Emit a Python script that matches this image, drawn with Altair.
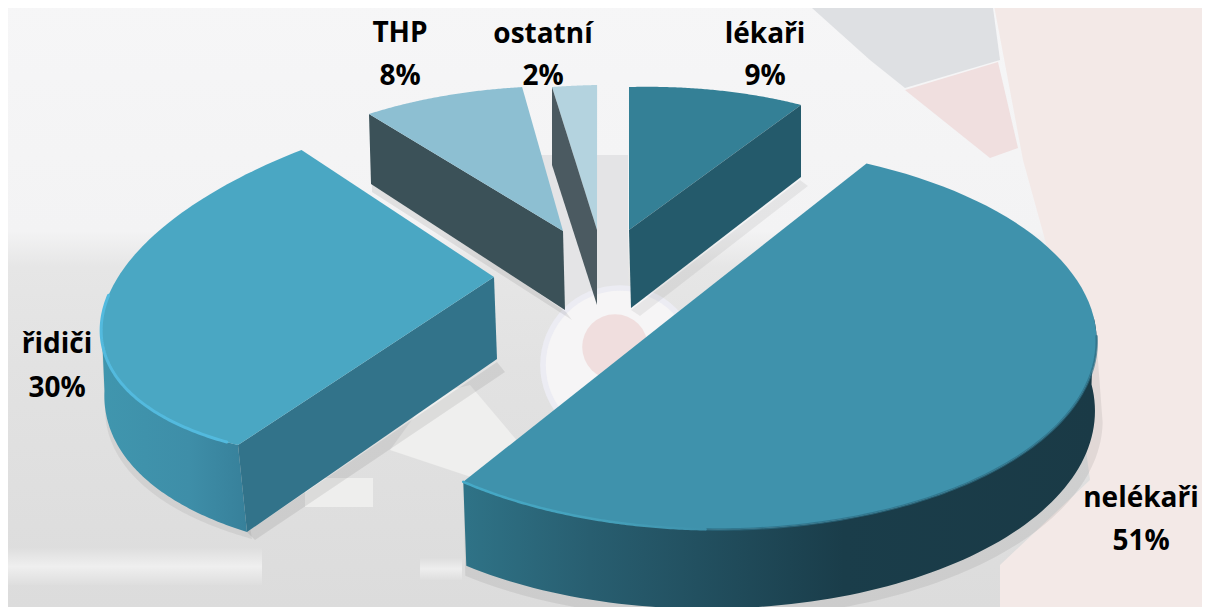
import math
import numpy as np
import altair as alt
import pandas as pd

# ---- data ----
categories = ["lékaři", "nelékaři", "řidiči", "THP", "ostatní"]
shares = [9, 51, 30, 8, 2]

W, H = 1194, 599
X = alt.X("x:Q", axis=None, scale=alt.Scale(domain=[8, 1202], range=[0, W], nice=False, zero=False))
Y = alt.Y("y:Q", axis=None, scale=alt.Scale(domain=[8, 607], range=[0, H], nice=False, zero=False))


def grad(stops, horizontal=True):
    return alt.Gradient(
        gradient="linear",
        x1=0, y1=0, x2=1 if horizontal else 0, y2=0 if horizontal else 1,
        stops=[alt.GradientStop(color=c, offset=o) for o, c in stops],
    )


def poly(points, fill, opacity=1.0):
    df = pd.DataFrame(points, columns=["x", "y"])
    df["i"] = range(len(df))
    return alt.Chart(df).mark_line(fill=fill, stroke=None, strokeWidth=0, opacity=opacity, clip=True).encode(
        x=X, y=Y, order="i:Q")


def stroke_line(points, stroke, width, opacity=1.0):
    df = pd.DataFrame(points, columns=["x", "y"])
    df["i"] = range(len(df))
    return alt.Chart(df).mark_line(stroke=stroke, strokeWidth=width, opacity=opacity, clip=True,
                                   strokeCap="round").encode(x=X, y=Y, order="i:Q")


def dot(x, y, size, color, opacity=1.0):
    return alt.Chart(pd.DataFrame({"x": [x], "y": [y]})).mark_point(
        filled=True, size=size, color=color, opacity=opacity).encode(x=X, y=Y)


def ellipse_view(rim, sweep_deg, apex):
    """Ellipse through the outline of the largest slice, as centre + conjugate vectors."""
    pts = np.array(rim, dtype=float)
    m = pts.mean(axis=0)
    s = 300.0
    u, v = (pts[:, 0] - m[0]) / s, (pts[:, 1] - m[1]) / s
    A = np.column_stack([u * u, u * v, v * v, u, v, np.ones(len(u))])
    a, b, c, d, e, f = np.linalg.svd(A)[2][-1]
    M = np.array([[a, b / 2], [b / 2, c]])
    ctr = np.linalg.solve(2 * M, [-d, -e])
    val = -(a * ctr[0] ** 2 + b * ctr[0] * ctr[1] + c * ctr[1] ** 2 + d * ctr[0] + e * ctr[1] + f)

    def norm(w):
        return w * math.sqrt(val / (w @ M @ w))

    Ev = norm((pts[0] - m) / s - ctr)
    Mu = M @ Ev
    Fv = norm(np.array([-Mu[1], Mu[0]]))
    if Ev[0] * Fv[1] - Ev[1] * Fv[0] < 0:
        Fv = -Fv
    q = np.linalg.solve(np.column_stack([Ev, Fv]), (pts[-1] - m) / s - ctr)
    end = math.atan2(q[1], q[0]) % (2 * math.pi)
    c_px = m + ctr * s
    return dict(apex=apex, c=tuple(c_px), E=tuple(Ev * s), F=tuple(Fv * s),
                k=math.degrees(end) / sweep_deg)


# ---- slice geometry (view of the exploded 3-D pie) ----
neleka_rim = [(867, 163), (950, 190), (1037, 240), (1077, 280), (1097, 320), (1099, 340), (1083, 387),
              (1043, 437), (993, 470), (960, 487), (857, 517), (735, 530), (587, 517), (463, 482)]
views = {
    "lékaři":   dict(apex=(629, 230), c=(629, 230), E=(0, -143), F=(321, -8), k=1.0),
    "nelékaři": ellipse_view(neleka_rim, shares[1] * 3.6, (664, 323)),
    "řidiči":   dict(apex=(494, 277), c=(494, 277), E=(-256, 168), F=(-298, -74), k=110 / 108),
    "THP":      dict(apex=(563, 231), c=(563, 231), E=(-194, -117), F=(268, -86), k=1.0),
    "ostatní":  dict(apex=(597, 230), c=(597, 230), E=(-45, -143), F=(357, -25), k=1.0),
}


def arc(name, a=0.0, b=1.0, n=90):
    v = views[name]
    share = shares[categories.index(name)]
    sweep = math.radians(share * 3.6 * v["k"])
    pts = []
    for i in range(n + 1):
        t = sweep * (a + (b - a) * i / n)
        pts.append((v["c"][0] + math.cos(t) * v["E"][0] + math.sin(t) * v["F"][0],
                    v["c"][1] + math.cos(t) * v["E"][1] + math.sin(t) * v["F"][1]))
    return pts


def top(name):
    return [views[name]["apex"]] + arc(name) + [views[name]["apex"]]


def shifted(pts, d0, d1):
    n = max(len(pts) - 1, 1)
    return [(p[0] + d0[0] + (d1[0] - d0[0]) * i / n, p[1] + d0[1] + (d1[1] - d0[1]) * i / n)
            for i, p in enumerate(pts)]


def band(pts, d0, d1):
    return pts + shifted(pts, d0, d1)[::-1] + [pts[0]]


layers = []

# ---- washed-out background picture ----
layers.append(poly([(0, 0), (1210, 0), (1210, 607), (0, 607), (0, 0)],
                   grad([(0, "#f6f6f7"), (0.38, "#f3f3f4"), (0.44, "#e6e6e6"), (0.6, "#e2e2e2"), (1, "#dcdcdc")], False)))
layers.append(poly([(993, 0), (1210, 0), (1210, 607), (1000, 607), (1000, 565), (1090, 480), (1070, 330), (1023, 160), (993, 0)], "#f3e9e7"))
layers.append(poly([(812, 8), (993, 8), (1000, 60), (905, 88), (870, 60), (812, 8)], "#dee0e3"))
layers.append(poly([(905, 90), (998, 62), (1018, 148), (990, 158), (905, 90)], "#f0dfdf"))
layers.append(poly([(540, 155), (628, 155), (628, 300), (540, 300), (540, 155)], "#e4e4e6"))
layers.append(poly([(430, 395), (470, 385), (525, 450), (480, 480), (390, 450), (430, 395)], "#efefee"))
layers.append(poly([(305, 478), (373, 478), (373, 507), (305, 507), (305, 478)], "#eeeeed"))
layers.append(poly([(420, 558), (462, 558), (462, 580), (420, 580), (420, 558)],
                   grad([(0, "#dedede"), (0.5, "#eeeeee"), (1, "#dedede")], False)))
layers.append(poly([(0, 548), (262, 548), (262, 585), (0, 585), (0, 548)],
                   grad([(0, "#dedede"), (0.5, "#efefef"), (1, "#dedede")], False)))
layers.append(dot(620, 365, 25500, "#ececf3"))
layers.append(dot(620, 365, 22000, "#f6f5f6"))
layers.append(dot(615, 347, 4300, "#f0dede"))

# ---- soft shadows ----
layers.append(poly(band(arc("řidiči", 0, 0.45), (14, 94), (4, 84)), "#000000", 0.06))
layers.append(poly([(497, 362), (505, 372), (255, 540), (247, 532), (497, 362)], "#000000", 0.08))
layers.append(poly([(372, 180), (566, 312), (572, 320), (372, 192), (372, 180)], "#000000", 0.08))
layers.append(poly([(631, 310), (800, 180), (808, 186), (640, 316), (631, 310)], "#000000", 0.06))
layers.append(poly(band(arc("nelékaři", 0.34, 1.0), (6, 80), (2, 94)), "#000000", 0.07))

# ---- THP ----
p = arc("THP")
layers.append(poly([views["THP"]["apex"], p[0], (p[0][0] + 2, p[0][1] + 70), (565, 310), views["THP"]["apex"]], "#3b5158"))
layers.append(poly(top("THP"), "#8dbfd2"))

# ---- ostatní ----
p = arc("ostatní")
layers.append(poly(top("ostatní"), "#b4d3df"))
layers.append(poly([views["ostatní"]["apex"], p[0], (p[0][0], p[0][1] + 78), (597, 305), views["ostatní"]["apex"]], "#4b5a61"))

# ---- lékaři ----
p = arc("lékaři")
layers.append(poly(top("lékaři"), "#348096"))
layers.append(poly([views["lékaři"]["apex"], p[-1], (p[-1][0], p[-1][1] + 72), (631, 308), views["lékaři"]["apex"]], "#245a6b"))

# ---- řidiči ----
r = arc("řidiči", 0, 0.47)
layers.append(poly(band(r, (9, 87), (3, 68)), grad([(0, "#4096ae"), (0.6, "#3e8ea8"), (1, "#37809a")])))
p = arc("řidiči")
layers.append(poly([views["řidiči"]["apex"], p[0], (p[0][0] + 9, p[0][1] + 87), (497, 359), views["řidiči"]["apex"]], "#32738a"))
layers.append(poly(top("řidiči"), "#4aa7c3"))
layers.append(stroke_line(arc("řidiči", 0.02, 0.55), "#53bade", 3))

# ---- nelékaři ----
r = arc("nelékaři", 0.3, 1.0)
layers.append(poly(band(r, (-2, 68), (3, 84)),
                   grad([(0, "#2f7387"), (0.2, "#285e70"), (0.6, "#1a3d4a"), (1, "#1a3a46")])))
layers.append(poly(top("nelékaři"), "#3f92ac"))
layers.append(stroke_line(arc("nelékaři", 0.33, 0.8), "#2c6e84", 2.5, 0.7))
layers.append(stroke_line(arc("nelékaři", 0.8, 1.0), grad([(0, "#45aac8"), (0.6, "#45a0ba"), (1, "#3f92ac")]), 2.5))

# ---- labels ----
name_y = {"lékaři": 35, "nelékaři": 499, "řidiči": 345, "THP": 34, "ostatní": 35}
pct_y = {"lékaři": 77, "nelékaři": 542, "řidiči": 389, "THP": 77, "ostatní": 77}
label_x = {"lékaři": 765, "nelékaři": 1141, "řidiči": 57, "THP": 400, "ostatní": 543}
rows = []
for name, s in zip(categories, shares):
    rows.append({"x": label_x[name], "y": name_y[name], "t": name})
    rows.append({"x": label_x[name], "y": pct_y[name], "t": f"{s}%"})
labels = alt.Chart(pd.DataFrame(rows)).mark_text(
    font="Open Sans", fontWeight="bold", fontSize=28, color="#000000", align="center", baseline="middle"
).encode(x=X, y=Y, text="t:N")
layers.append(labels)

chart = alt.layer(*layers).properties(width=W, height=H, padding=0).configure_view(stroke=None)
chart.save("out.html", embed_options={"renderer": "svg", "actions": False})
